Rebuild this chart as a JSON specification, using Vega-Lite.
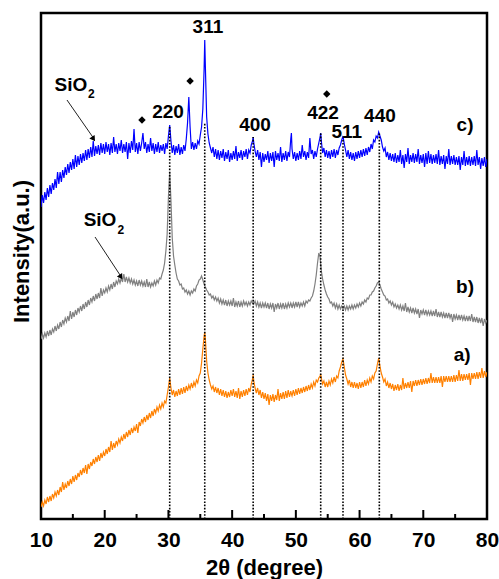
{
"$schema":"https://vega.github.io/schema/vega-lite/v6.json",
"width":446,"height":506,"autosize":"none",
"padding":{"left":41,"top":13,"right":12,"bottom":60},
"config":{"view":{"stroke":"#000","strokeWidth":2.5},"font":"Liberation Sans"},
"layer":[
{"data":{"values":[
{"x":10,"a":12,"b":180,"c":312},{"x":10.2,"a":17,"b":185,"c":324},{"x":10.4,"a":13,"b":181,"c":316},{"x":10.6,"a":19,"b":186,"c":327},{"x":10.8,"a":15,"b":182,"c":319},
{"x":11,"a":22,"b":188,"c":331},{"x":11.2,"a":17,"b":183,"c":322},{"x":11.4,"a":23,"b":189,"c":334},{"x":11.6,"a":18,"b":184,"c":325},{"x":11.8,"a":25,"b":190,"c":336},
{"x":12,"a":21,"b":187,"c":329},{"x":12.2,"a":27,"b":193,"c":340},{"x":12.4,"a":23,"b":188,"c":331},{"x":12.6,"a":29,"b":194,"c":347},{"x":12.8,"a":24,"b":190,"c":335},
{"x":13,"a":32,"b":197,"c":347},{"x":13.2,"a":27,"b":192,"c":337},{"x":13.4,"a":37,"b":199,"c":349},{"x":13.6,"a":29,"b":195,"c":341},{"x":13.8,"a":35,"b":201,"c":352},
{"x":14,"a":31,"b":197,"c":344},{"x":14.2,"a":38,"b":203,"c":355},{"x":14.4,"a":33,"b":198,"c":346},{"x":14.6,"a":40,"b":208,"c":357},{"x":14.8,"a":35,"b":200,"c":349},
{"x":15,"a":43,"b":207,"c":360},{"x":15.2,"a":37,"b":202,"c":350},{"x":15.4,"a":44,"b":209,"c":364},{"x":15.6,"a":39,"b":204,"c":352},{"x":15.8,"a":46,"b":211,"c":363},
{"x":16,"a":42,"b":207,"c":354},{"x":16.2,"a":49,"b":213,"c":365},{"x":16.4,"a":44,"b":208,"c":356},{"x":16.6,"a":51,"b":215,"c":366},{"x":16.8,"a":46,"b":210,"c":358},
{"x":17,"a":54,"b":217,"c":369},{"x":17.2,"a":45,"b":212,"c":359},{"x":17.4,"a":55,"b":219,"c":370},{"x":17.6,"a":50,"b":214,"c":361},{"x":17.8,"a":57,"b":221,"c":372},
{"x":18,"a":53,"b":217,"c":362},{"x":18.2,"a":60,"b":223,"c":378},{"x":18.4,"a":55,"b":218,"c":363},{"x":18.6,"a":62,"b":225,"c":373},{"x":18.8,"a":57,"b":220,"c":365},
{"x":19,"a":64,"b":226,"c":374},{"x":19.2,"a":58,"b":221,"c":364},{"x":19.4,"a":66,"b":231,"c":376},{"x":19.6,"a":61,"b":223,"c":366},{"x":19.8,"a":67,"b":229,"c":375},
{"x":20,"a":63,"b":226,"c":365},{"x":20.2,"a":70,"b":231,"c":377},{"x":20.4,"a":65,"b":227,"c":367},{"x":20.6,"a":72,"b":233,"c":375},{"x":20.8,"a":67,"b":229,"c":364},
{"x":21,"a":78,"b":235,"c":376},{"x":21.2,"a":69,"b":230,"c":366},{"x":21.4,"a":76,"b":237,"c":382},{"x":21.6,"a":71,"b":232,"c":367},{"x":21.8,"a":78,"b":238,"c":375},
{"x":22,"a":74,"b":235,"c":365},{"x":22.2,"a":80,"b":240,"c":376},{"x":22.4,"a":76,"b":236,"c":368},{"x":22.6,"a":82,"b":241,"c":379},{"x":22.8,"a":78,"b":237,"c":366},
{"x":23,"a":85,"b":245,"c":375},{"x":23.2,"a":80,"b":237,"c":367},{"x":23.4,"a":87,"b":242,"c":377},{"x":23.6,"a":82,"b":237,"c":360},{"x":23.8,"a":89,"b":241,"c":376},
{"x":24,"a":84,"b":236,"c":366},{"x":24.2,"a":91,"b":240,"c":378},{"x":24.4,"a":86,"b":235,"c":369},{"x":24.6,"a":92,"b":239,"c":390},{"x":24.8,"a":88,"b":234,"c":367},
{"x":25,"a":95,"b":238,"c":376},{"x":25.2,"a":86,"b":233,"c":365},{"x":25.4,"a":97,"b":239,"c":377},{"x":25.6,"a":93,"b":234,"c":368},{"x":25.8,"a":100,"b":238,"c":376},
{"x":26,"a":96,"b":233,"c":386},{"x":26.2,"a":102,"b":237,"c":370},{"x":26.4,"a":97,"b":232,"c":377},{"x":26.6,"a":104,"b":240,"c":366},{"x":26.8,"a":99,"b":232,"c":375},
{"x":27,"a":106,"b":237,"c":367},{"x":27.2,"a":101,"b":232,"c":381},{"x":27.4,"a":108,"b":236,"c":368},{"x":27.6,"a":103,"b":233,"c":376},{"x":27.8,"a":110,"b":238,"c":365},
{"x":28,"a":106,"b":234,"c":375},{"x":28.2,"a":112,"b":239,"c":367},{"x":28.4,"a":108,"b":236,"c":377},{"x":28.6,"a":114,"b":241,"c":366},{"x":28.8,"a":110,"b":240,"c":374},
{"x":29,"a":116,"b":245,"c":368},{"x":29.2,"a":112,"b":249,"c":375},{"x":29.4,"a":118,"b":256,"c":365},{"x":29.6,"a":116,"b":268,"c":376},{"x":29.8,"a":124,"b":285,"c":370},
{"x":30,"a":132,"b":322,"c":383},{"x":30.2,"a":141,"b":347,"c":394},{"x":30.4,"a":131,"b":318,"c":378},{"x":30.6,"a":124,"b":281,"c":366},{"x":30.8,"a":129,"b":263,"c":374},
{"x":31,"a":122,"b":254,"c":364},{"x":31.2,"a":128,"b":246,"c":373},{"x":31.4,"a":123,"b":240,"c":366},{"x":31.6,"a":130,"b":238,"c":375},{"x":31.8,"a":124,"b":234,"c":364},
{"x":32,"a":131,"b":235,"c":372},{"x":32.2,"a":125,"b":230,"c":365},{"x":32.4,"a":132,"b":231,"c":374},{"x":32.6,"a":126,"b":227,"c":368},{"x":32.8,"a":133,"b":229,"c":380},
{"x":33,"a":128,"b":225,"c":396},{"x":33.2,"a":134,"b":228,"c":422},{"x":33.4,"a":130,"b":224,"c":392},{"x":33.6,"a":136,"b":228,"c":370},{"x":33.8,"a":131,"b":226,"c":377},
{"x":34,"a":137,"b":230,"c":369},{"x":34.2,"a":133,"b":228,"c":376},{"x":34.4,"a":139,"b":233,"c":370},{"x":34.6,"a":136,"b":235,"c":378},{"x":34.8,"a":143,"b":239,"c":375},
{"x":35,"a":146,"b":240,"c":384},{"x":35.2,"a":156,"b":243,"c":392},{"x":35.4,"a":170,"b":239,"c":410},{"x":35.6,"a":183,"b":235,"c":450},{"x":35.7,"a":187,"b":233,"c":479},{"x":35.8,"a":180,"b":232,"c":452},
{"x":36,"a":158,"b":229,"c":402},{"x":36.2,"a":146,"b":227,"c":385},{"x":36.4,"a":139,"b":224,"c":376},{"x":36.6,"a":134,"b":225,"c":371},{"x":36.8,"a":130,"b":221,"c":366},
{"x":37,"a":133,"b":223,"c":372},{"x":37.2,"a":127,"b":219,"c":362},{"x":37.4,"a":132,"b":222,"c":370},{"x":37.6,"a":126,"b":218,"c":360},{"x":37.8,"a":131,"b":221,"c":369},
{"x":38,"a":124,"b":216,"c":359},{"x":38.2,"a":130,"b":220,"c":368},{"x":38.4,"a":123,"b":215,"c":361},{"x":38.6,"a":129,"b":219,"c":370},{"x":38.8,"a":122,"b":214,"c":358},
{"x":39,"a":128,"b":219,"c":367},{"x":39.2,"a":121,"b":213,"c":360},{"x":39.4,"a":127,"b":218,"c":369},{"x":39.6,"a":122,"b":214,"c":357},{"x":39.8,"a":129,"b":218,"c":366},
{"x":40,"a":123,"b":213,"c":359},{"x":40.2,"a":130,"b":221,"c":368},{"x":40.4,"a":122,"b":212,"c":360},{"x":40.6,"a":128,"b":217,"c":373},{"x":40.8,"a":121,"b":213,"c":358},
{"x":41,"a":131,"b":218,"c":367},{"x":41.2,"a":120,"b":212,"c":361},{"x":41.4,"a":128,"b":217,"c":369},{"x":41.6,"a":122,"b":213,"c":359},{"x":41.8,"a":129,"b":218,"c":368},
{"x":42,"a":123,"b":214,"c":362},{"x":42.2,"a":130,"b":217,"c":370},{"x":42.4,"a":124,"b":213,"c":360},{"x":42.6,"a":131,"b":217,"c":369},{"x":42.8,"a":127,"b":214,"c":366},
{"x":43,"a":135,"b":218,"c":374},{"x":43.2,"a":140,"b":216,"c":378},{"x":43.3,"a":144,"b":217,"c":382},{"x":43.4,"a":138,"b":215,"c":376},{"x":43.6,"a":131,"b":218,"c":368},{"x":43.8,"a":126,"b":213,"c":362},
{"x":44,"a":131,"b":217,"c":369},{"x":44.2,"a":124,"b":212,"c":359},{"x":44.4,"a":129,"b":216,"c":367},{"x":44.6,"a":121,"b":211,"c":352},{"x":44.8,"a":127,"b":216,"c":366},
{"x":45,"a":120,"b":212,"c":357},{"x":45.2,"a":126,"b":216,"c":365},{"x":45.4,"a":118,"b":211,"c":359},{"x":45.6,"a":125,"b":216,"c":368},{"x":45.8,"a":114,"b":210,"c":356},
{"x":46,"a":124,"b":215,"c":366},{"x":46.2,"a":118,"b":211,"c":358},{"x":46.4,"a":125,"b":216,"c":367},{"x":46.6,"a":117,"b":207,"c":352},{"x":46.8,"a":124,"b":215,"c":368},
{"x":47,"a":119,"b":211,"c":359},{"x":47.2,"a":130,"b":216,"c":366},{"x":47.4,"a":118,"b":210,"c":358},{"x":47.6,"a":126,"b":215,"c":372},{"x":47.8,"a":120,"b":211,"c":357},
{"x":48,"a":127,"b":216,"c":366},{"x":48.2,"a":120,"b":210,"c":359},{"x":48.4,"a":128,"b":215,"c":368},{"x":48.6,"a":121,"b":211,"c":358},{"x":48.8,"a":129,"b":216,"c":367},
{"x":49,"a":122,"b":212,"c":362},{"x":49.2,"a":128,"b":216,"c":380},{"x":49.3,"a":125,"b":214,"c":386},{"x":49.4,"a":123,"b":211,"c":370},{"x":49.6,"a":129,"b":216,"c":360},{"x":49.8,"a":123,"b":212,"c":367},
{"x":50,"a":130,"b":217,"c":358},{"x":50.2,"a":124,"b":212,"c":366},{"x":50.4,"a":131,"b":217,"c":359},{"x":50.6,"a":125,"b":212,"c":368},{"x":50.8,"a":131,"b":216,"c":360},
{"x":51,"a":126,"b":213,"c":374},{"x":51.2,"a":132,"b":217,"c":362},{"x":51.4,"a":127,"b":213,"c":368},{"x":51.6,"a":133,"b":218,"c":359},{"x":51.8,"a":128,"b":216,"c":367},
{"x":52,"a":134,"b":219,"c":361},{"x":52.2,"a":129,"b":218,"c":381},{"x":52.4,"a":135,"b":221,"c":365},{"x":52.6,"a":131,"b":223,"c":369},{"x":52.8,"a":137,"b":228,"c":360},
{"x":53,"a":133,"b":235,"c":368},{"x":53.2,"a":139,"b":244,"c":362},{"x":53.4,"a":137,"b":256,"c":370},{"x":53.6,"a":141,"b":266,"c":376},{"x":53.8,"a":143,"b":262,"c":382},{"x":53.9,"a":145,"b":255,"c":386},
{"x":54,"a":141,"b":248,"c":378},{"x":54.2,"a":135,"b":240,"c":366},{"x":54.4,"a":138,"b":234,"c":371},{"x":54.6,"a":132,"b":229,"c":362},{"x":54.8,"a":137,"b":225,"c":369},
{"x":55,"a":132,"b":222,"c":361},{"x":55.2,"a":138,"b":220,"c":368},{"x":55.4,"a":134,"b":216,"c":360},{"x":55.6,"a":140,"b":217,"c":369},{"x":55.8,"a":136,"b":213,"c":362},
{"x":56,"a":142,"b":216,"c":370},{"x":56.2,"a":137,"b":211,"c":361},{"x":56.4,"a":143,"b":215,"c":369},{"x":56.6,"a":141,"b":210,"c":364},{"x":56.8,"a":148,"b":214,"c":371},
{"x":57,"a":152,"b":210,"c":374},{"x":57.2,"a":157,"b":213,"c":379},{"x":57.4,"a":160,"b":210,"c":383},{"x":57.6,"a":152,"b":213,"c":375},{"x":57.8,"a":144,"b":209,"c":369},
{"x":58,"a":140,"b":213,"c":362},{"x":58.2,"a":135,"b":209,"c":369},{"x":58.4,"a":139,"b":213,"c":360},{"x":58.6,"a":132,"b":210,"c":367},{"x":58.8,"a":137,"b":214,"c":359},
{"x":59,"a":131,"b":210,"c":366},{"x":59.2,"a":137,"b":214,"c":358},{"x":59.4,"a":131,"b":211,"c":367},{"x":59.6,"a":136,"b":215,"c":360},{"x":59.8,"a":130,"b":212,"c":368},
{"x":60,"a":137,"b":216,"c":361},{"x":60.2,"a":131,"b":213,"c":369},{"x":60.4,"a":137,"b":217,"c":362},{"x":60.6,"a":132,"b":215,"c":370},{"x":60.8,"a":139,"b":219,"c":363},
{"x":61,"a":133,"b":217,"c":371},{"x":61.2,"a":139,"b":221,"c":364},{"x":61.4,"a":135,"b":220,"c":372},{"x":61.6,"a":141,"b":224,"c":367},{"x":61.8,"a":137,"b":224,"c":375},
{"x":62,"a":143,"b":227,"c":370},{"x":62.2,"a":140,"b":228,"c":379},{"x":62.4,"a":146,"b":231,"c":377},{"x":62.6,"a":148,"b":233,"c":383},{"x":62.8,"a":155,"b":236,"c":381},
{"x":63,"a":161,"b":237,"c":387},{"x":63.2,"a":153,"b":234,"c":383},{"x":63.4,"a":146,"b":230,"c":379},{"x":63.6,"a":142,"b":227,"c":372},{"x":63.8,"a":137,"b":224,"c":368},
{"x":64,"a":140,"b":223,"c":371},{"x":64.2,"a":133,"b":219,"c":362},{"x":64.4,"a":137,"b":220,"c":367},{"x":64.6,"a":131,"b":216,"c":359},{"x":64.8,"a":136,"b":218,"c":366},
{"x":65,"a":130,"b":214,"c":358},{"x":65.2,"a":135,"b":217,"c":365},{"x":65.4,"a":128,"b":212,"c":357},{"x":65.6,"a":134,"b":215,"c":366},{"x":65.8,"a":129,"b":211,"c":356},
{"x":66,"a":135,"b":214,"c":364},{"x":66.2,"a":128,"b":210,"c":357},{"x":66.4,"a":134,"b":214,"c":369},{"x":66.6,"a":129,"b":209,"c":355},{"x":66.8,"a":141,"b":213,"c":364},
{"x":67,"a":130,"b":208,"c":351},{"x":67.2,"a":136,"b":216,"c":365},{"x":67.4,"a":131,"b":207,"c":357},{"x":67.6,"a":137,"b":212,"c":371},{"x":67.8,"a":131,"b":207,"c":355},
{"x":68,"a":138,"b":211,"c":364},{"x":68.2,"a":127,"b":206,"c":357},{"x":68.4,"a":138,"b":211,"c":366},{"x":68.6,"a":133,"b":206,"c":356},{"x":68.8,"a":139,"b":210,"c":365},
{"x":69,"a":133,"b":205,"c":357},{"x":69.2,"a":139,"b":210,"c":370},{"x":69.4,"a":134,"b":201,"c":355},{"x":69.6,"a":140,"b":209,"c":364},{"x":69.8,"a":134,"b":205,"c":356},
{"x":70,"a":140,"b":209,"c":365},{"x":70.2,"a":135,"b":204,"c":352},{"x":70.4,"a":141,"b":209,"c":366},{"x":70.6,"a":135,"b":204,"c":355},{"x":70.8,"a":141,"b":208,"c":368},
{"x":71,"a":136,"b":204,"c":356},{"x":71.2,"a":146,"b":208,"c":365},{"x":71.4,"a":136,"b":203,"c":355},{"x":71.6,"a":142,"b":208,"c":364},{"x":71.8,"a":136,"b":203,"c":356},
{"x":72,"a":142,"b":210,"c":365},{"x":72.2,"a":136,"b":202,"c":355},{"x":72.4,"a":142,"b":207,"c":369},{"x":72.6,"a":136,"b":202,"c":354},{"x":72.8,"a":143,"b":207,"c":363},
{"x":73,"a":132,"b":202,"c":355},{"x":73.2,"a":143,"b":206,"c":364},{"x":73.4,"a":137,"b":201,"c":350},{"x":73.6,"a":143,"b":206,"c":363},{"x":73.8,"a":137,"b":201,"c":355},
{"x":74,"a":143,"b":206,"c":370},{"x":74.2,"a":137,"b":201,"c":354},{"x":74.4,"a":143,"b":205,"c":363},{"x":74.6,"a":137,"b":197,"c":355},{"x":74.8,"a":144,"b":205,"c":364},
{"x":75,"a":137,"b":200,"c":354},{"x":75.2,"a":144,"b":204,"c":362},{"x":75.4,"a":138,"b":199,"c":354},{"x":75.6,"a":149,"b":204,"c":363},{"x":75.8,"a":138,"b":199,"c":349},
{"x":76,"a":145,"b":204,"c":362},{"x":76.2,"a":138,"b":199,"c":354},{"x":76.4,"a":145,"b":203,"c":368},{"x":76.6,"a":139,"b":198,"c":353},{"x":76.8,"a":145,"b":203,"c":362},
{"x":77,"a":139,"b":198,"c":354},{"x":77.2,"a":146,"b":203,"c":363},{"x":77.4,"a":134,"b":198,"c":353},{"x":77.6,"a":146,"b":205,"c":362},{"x":77.8,"a":140,"b":197,"c":354},
{"x":78,"a":146,"b":202,"c":363},{"x":78.2,"a":140,"b":197,"c":353},{"x":78.4,"a":147,"b":202,"c":369},{"x":78.6,"a":140,"b":196,"c":354},{"x":78.8,"a":147,"b":201,"c":362},
{"x":79,"a":141,"b":196,"c":350},{"x":79.2,"a":151,"b":201,"c":361},{"x":79.4,"a":141,"b":193,"c":353},{"x":79.6,"a":148,"b":200,"c":362},{"x":79.8,"a":142,"b":196,"c":352},
{"x":80,"a":147,"b":199,"c":360}
]},
"transform":[{"fold":["a","b","c"],"as":["s","v"]}],
"mark":{"type":"line","strokeWidth":1.2,"clip":true},
"encoding":{
"x":{"field":"x","type":"quantitative","scale":{"domain":[10,80],"nice":false,"zero":false},
"axis":{"values":[10,20,30,40,50,60,70,80],"grid":false,"ticks":false,"domain":false,"labelFontSize":21,"labelFontWeight":"bold","labelColor":"#000","labelPadding":10,"labelFlush":false,
"title":"2θ (degree)","titleFontSize":22,"titleFontWeight":"bold","titleColor":"#000","titleBaseline":"middle","titleY":48}},
"y":{"field":"v","type":"quantitative","scale":{"domain":[0,506],"nice":false,"zero":false},
"axis":{"grid":false,"ticks":false,"labels":false,"domain":false,"title":"Intensity(a.u.)","titleFontSize":22,"titleFontWeight":"bold","titleColor":"#000","titleAngle":-90,"titleBaseline":"middle","titleAlign":"center","titleX":-20,"titleY":238}},
"color":{"field":"s","type":"nominal","scale":{"domain":["a","b","c"],"range":["#ff8000","#808080","#0000ff"]},"legend":null},
"detail":{"field":"s"}}},
{"data":{"values":[{"x":30.2,"y":0,"y2":392},{"x":35.7,"y":0,"y2":396},{"x":43.3,"y":0,"y2":382},{"x":53.9,"y":0,"y2":386},{"x":57.4,"y":0,"y2":379},{"x":63.1,"y":0,"y2":387}]},
"mark":{"type":"rule","color":"#000","strokeWidth":1.6,"strokeDash":[1.6,1.6]},
"encoding":{"x":{"field":"x","type":"quantitative"},"y":{"field":"y","type":"quantitative"},"y2":{"field":"y2"}}},
{"data":{"values":[{"x":20,"y":0,"y2":9},{"x":30,"y":0,"y2":9},{"x":40,"y":0,"y2":9},{"x":50,"y":0,"y2":9},{"x":60,"y":0,"y2":9},{"x":70,"y":0,"y2":9},
{"x":15,"y":0,"y2":5},{"x":25,"y":0,"y2":5},{"x":35,"y":0,"y2":5},{"x":45,"y":0,"y2":5},{"x":55,"y":0,"y2":5},{"x":65,"y":0,"y2":5},{"x":75,"y":0,"y2":5}]},
"mark":{"type":"rule","color":"#000","strokeWidth":2},
"encoding":{"x":{"field":"x","type":"quantitative"},"y":{"field":"y","type":"quantitative"},"y2":{"field":"y2"}}},
{"data":{"values":[{"x":29.93,"y":407,"t":"220"},{"x":36.2,"y":492,"t":"311"},{"x":43.6,"y":394,"t":"400"},{"x":54.26,"y":406,"t":"422"},{"x":58.0,"y":387,"t":"511"},{"x":63.2,"y":403,"t":"440"},
{"x":76.55,"y":394,"t":"c)"},{"x":76.55,"y":232,"t":"b)"},{"x":76.1,"y":164,"t":"a)"}]},
"mark":{"type":"text","fontSize":19,"fontWeight":"bold","color":"#000","align":"center","baseline":"middle"},
"encoding":{"x":{"field":"x","type":"quantitative"},"y":{"field":"y","type":"quantitative"},"text":{"field":"t"}}},
{"data":{"values":[{"x":14.7,"y":434,"t":"SiO"},{"x":19.26,"y":299,"t":"SiO"}]},
"mark":{"type":"text","fontSize":19,"fontWeight":"bold","color":"#000","align":"center","baseline":"middle"},
"encoding":{"x":{"field":"x","type":"quantitative"},"y":{"field":"y","type":"quantitative"},"text":{"field":"t"}}},
{"data":{"values":[{"x":17.9,"y":425,"t":"2"},{"x":22.55,"y":289,"t":"2"}]},
"mark":{"type":"text","fontSize":12,"fontWeight":"bold","color":"#000","align":"center","baseline":"middle"},
"encoding":{"x":{"field":"x","type":"quantitative"},"y":{"field":"y","type":"quantitative"},"text":{"field":"t"}}},
{"data":{"values":[{"x":14.08,"y":419,"x2":18.12,"y2":382},{"x":18.48,"y":282,"x2":22.4,"y2":244}]},
"mark":{"type":"rule","color":"#222","strokeWidth":1},
"encoding":{"x":{"field":"x","type":"quantitative"},"y":{"field":"y","type":"quantitative"},"x2":{"field":"x2"},"y2":{"field":"y2"}}},
{"data":{"values":[{"x":18.24,"y":380},{"x":22.56,"y":242}]},
"mark":{"type":"point","shape":"triangle-down","filled":true,"size":40,"angle":-34,"color":"#000","opacity":1},
"encoding":{"x":{"field":"x","type":"quantitative"},"y":{"field":"y","type":"quantitative"}}},
{"data":{"values":[{"x":25.85,"y":399},{"x":33.4,"y":438},{"x":54.85,"y":425}]},
"mark":{"type":"point","shape":"diamond","filled":true,"size":55,"color":"#000","opacity":1},
"encoding":{"x":{"field":"x","type":"quantitative"},"y":{"field":"y","type":"quantitative"}}}
]
}
